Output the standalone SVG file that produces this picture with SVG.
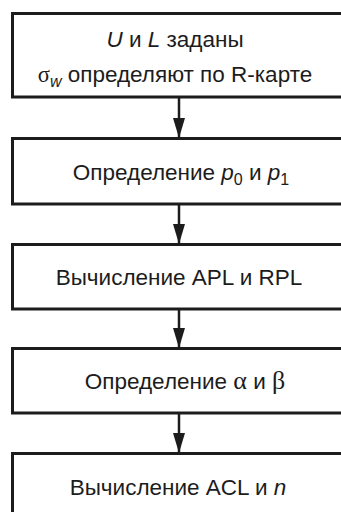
<svg xmlns="http://www.w3.org/2000/svg" width="341" height="512" viewBox="0 0 341 512">
  <style>
    .box { fill: #ffffff; stroke: #1c1c1c; stroke-width: 3; }
    .lbl { font-family: "Liberation Sans", Arial, sans-serif; font-size: 22.5px; fill: #1c1c1c; text-anchor: middle; }
    .it { font-style: italic; }
    .sub { font-size: 16px; }
    .greek { font-family: "Liberation Serif", "Times New Roman", serif; }
    .big { font-size: 26px; }
    .link { stroke: #1c1c1c; stroke-width: 2.5; fill: none; marker-end: url(#head); }
  </style>
  <defs>
    <!-- filled arrowhead pointing along the line direction -->
    <marker id="head" viewBox="0 0 20 12" refX="20" refY="6" markerWidth="20" markerHeight="12" markerUnits="userSpaceOnUse" orient="auto">
      <path d="M0,0 L20,6 L0,12 Z" fill="#1c1c1c"/>
    </marker>
  </defs>
  <rect width="341" height="512" fill="#ffffff"/>

  <g id="connectors">
    <line class="link" x1="179" y1="98" x2="179" y2="138"/>
    <line class="link" x1="179" y1="205" x2="179" y2="244"/>
    <line class="link" x1="179" y1="310" x2="179" y2="348"/>
    <line class="link" x1="179" y1="414" x2="179" y2="453"/>
  </g>

  <g id="node-start">
    <rect class="box" x="12.5" y="13.5" width="340" height="83.5"/>
    <text class="lbl" x="175" y="47"><tspan class="it">U</tspan> и <tspan class="it">L</tspan> заданы</text>
    <text class="lbl" x="175" y="82"><tspan class="greek">σ</tspan><tspan class="it sub" dy="5">w</tspan><tspan dy="-5"> определяют по R-карте</tspan></text>
  </g>

  <g id="node-p">
    <rect class="box" x="12.5" y="138.5" width="340" height="65.5"/>
    <text class="lbl" x="181" y="180">Определение <tspan class="it">p</tspan><tspan class="sub" dy="5">0</tspan><tspan dy="-5"> и </tspan><tspan class="it">p</tspan><tspan class="sub" dy="5">1</tspan></text>
  </g>

  <g id="node-apl">
    <rect class="box" x="12.5" y="244.5" width="340" height="64.5"/>
    <text class="lbl" x="179" y="285">Вычисление APL и RPL</text>
  </g>

  <g id="node-ab">
    <rect class="box" x="12.5" y="348.5" width="340" height="64.5"/>
    <text class="lbl" x="185" y="389">Определение <tspan class="greek big">α</tspan> и <tspan class="greek big">β</tspan></text>
  </g>

  <g id="node-acl">
    <rect class="box" x="12.5" y="453.5" width="340" height="80"/>
    <text class="lbl" x="178" y="495">Вычисление ACL и <tspan class="it">n</tspan></text>
  </g>
</svg>
